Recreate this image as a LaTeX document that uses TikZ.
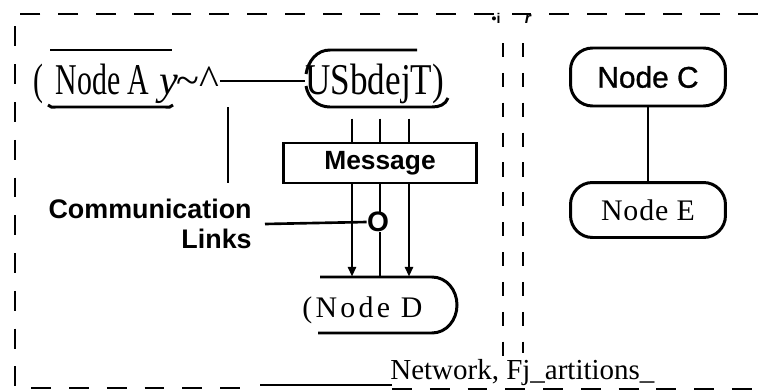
\documentclass[tikz,border=0pt]{standalone}
\usepackage{fontspec}
\setmainfont{Liberation Serif}
\setsansfont{Liberation Sans}
\newfontfamily\narrowserif[FakeStretch=0.68]{Liberation Serif}
\usetikzlibrary{arrows.meta}

\begin{document}
\begin{tikzpicture}[x=0.02cm,y=-0.02cm,
  frame/.style={line width=1.7pt, dash pattern=on 11.3pt off 10.2pt},
  part/.style={line width=1.3pt, dash pattern=on 8pt off 9pt},
  pill/.style={draw, line width=1.7pt, rounded corners=0.44cm, minimum width=3.1cm, minimum height=1.16cm, inner sep=0pt},
  edge/.style={line width=1.7pt},
  link/.style={line width=1.5pt},
  tip/.style={link, -{Triangle[length=5.5pt,width=4.5pt]}},
  big/.style={inner sep=0pt, anchor=base west}]
  \useasboundingbox (0,0) rectangle (758,392);
  \draw[frame] (758,14) -- (15,14) -- (15,388) -- (255,388);
  \draw[frame] (392,389) -- (758,389);
  \draw[line width=1.3pt] (260,385) -- (392,385);
  \draw[part] (503,43) -- (503,357);
  \draw[part] (523,43) -- (523,353);
  \node[font=\sffamily\bfseries\fontsize{8}{9}\selectfont, inner sep=0pt] (spot) at (496,18) {\textbullet i};
  \node[font=\sffamily\bfseries\itshape\fontsize{9}{10}\selectfont, inner sep=0pt] (mark) at (528,19) {r};

  \node[big, font=\fontsize{24}{28}\selectfont] (nodea) at (33,94)
    {{\narrowserif\fontsize{25}{28}\selectfont(\kern7pt Node A}\kern6pt\textit{y}\kern-1pt\textasciitilde\textasciicircum};
  \node[big, font=\addfontfeatures{FakeStretch=0.8}\fontsize{25}{28}\selectfont] (usb) at (305,94) {USbdejT)};
  \draw[edge] (50,50) -- (172,50);
  \draw[edge] (48,105) to[out=-60,in=180] (56,107) -- (165,107) to[out=0,in=-120] (173,105);
  \draw[edge] (417,50) -- (330,50) to[out=180,in=80] (306,74);
  \draw[edge] (306,86) to[out=-80,in=180] (330,107) -- (432,107) to[out=0,in=-110] (448,98);
  \draw[line width=1.2pt] ([yshift=0.05cm]nodea.east) -- ([yshift=0.05cm]usb.west);
  \coordinate (hang) at (228,107);
  \draw[line width=1.3pt] (hang) -- ++(0,76);

  \node[draw, line width=1.7pt, minimum width=3.88cm, minimum height=0.8cm, inner sep=0pt,
    font=\sffamily\bfseries\fontsize{15}{17}\selectfont] (msg) at (380,163) {Message};
  \node[font=\sffamily\bfseries\fontsize{16}{18}\selectfont, inner sep=0pt] (circ) at (378,222) {O};
  \node[font=\sffamily\bfseries\fontsize{15.3}{17}\selectfont, align=right, inner sep=0pt, anchor=east] (links) at (252,224) {Communication\\Links};

  \node[minimum width=2.78cm, minimum height=1.12cm, inner sep=0pt] (noded) at (387.5,305) {};
  \node[big, font=\addfontfeatures{LetterSpace=11}\fontsize{17}{20}\selectfont] (dtext) at (302,317) {(Node D};
  \draw[edge] (320,277) -- (432,277) to[out=0,in=90] (457,305) to[out=-90,in=0] (432,333) -- (318,333);

  \node[pill, font=\sffamily\addfontfeatures{FakeBold=1}\fontsize{17}{19}\selectfont] (nodec) at (648,77) {Node C};
  \node[pill, minimum height=1.1cm, font=\addfontfeatures{LetterSpace=3}\fontsize{17}{20}\selectfont] (nodee) at (648,210) {Node E};
  \draw[link] (nodec) -- (nodee);

  \coordinate (la) at (352,0);
  \coordinate (lb) at (380,0);
  \coordinate (lc) at (409,0);
  \foreach \l in {la,lb,lc}
    \draw[link] (usb.south -| \l) ++(0,15) -- (msg.north -| \l);
  \draw[tip] (msg.south -| la) -- (noded.north -| la);
  \draw[tip] (msg.south -| lc) -- (noded.north -| lc);
  \draw[link] (msg.south -| lb) -- (circ.north -| lb);
  \draw[link] (circ.south -| lb) -- (noded.north -| lb);
  \draw[link] ([xshift=0.26cm]links.east) -- (circ.west);

  \node[big, font=\fontsize{16.5}{19}\selectfont] (netp) at (390,379) {Network, Fj\_artitions\_};
\end{tikzpicture}
\end{document}
